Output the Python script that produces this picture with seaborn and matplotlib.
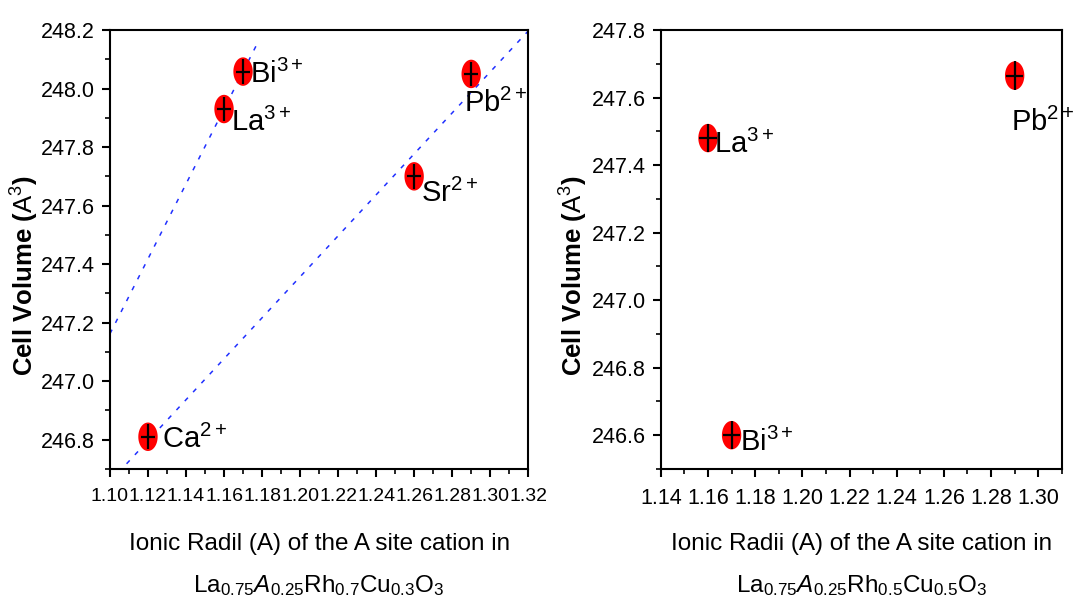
import numpy as np
import pandas as pd
import seaborn as sns
import matplotlib.pyplot as plt
from matplotlib.ticker import MultipleLocator, FormatStrFormatter

# data
ions_a = ["Ca", "La", "Bi", "Sr", "Pb"]
charge_a = ["2+", "3+", "3+", "2+", "2+"]
radius_a = [1.12, 1.16, 1.17, 1.26, 1.29]
volume_a = [246.81, 247.93, 248.058, 247.70, 248.05]

ions_b = ["La", "Bi", "Pb"]
charge_b = ["3+", "3+", "2+"]
radius_b = [1.16, 1.17, 1.29]
volume_b = [247.48, 246.60, 247.665]

xerr = 0.0037
yerr = 0.042

# groups of points the dashed fit lines go through
fit_groups = [["La", "Bi"], ["Ca", "Sr", "Pb"]]

sns.set_theme(style="ticks")
plt.rcParams['font.family'] = ['Liberation Sans', 'DejaVu Sans']
plt.rcParams['mathtext.fontset'] = 'custom'
plt.rcParams['mathtext.rm'] = 'Liberation Sans'
plt.rcParams['mathtext.it'] = 'Liberation Sans:italic'
plt.rcParams['mathtext.bf'] = 'Liberation Sans:bold'
plt.rcParams['text.color'] = 'black'
plt.rcParams['axes.labelcolor'] = 'black'
plt.rcParams['xtick.color'] = 'black'
plt.rcParams['ytick.color'] = 'black'

df_a = pd.DataFrame({"ion": ions_a, "charge": charge_a, "r": radius_a, "v": volume_a})
df_b = pd.DataFrame({"ion": ions_b, "charge": charge_b, "r": radius_b, "v": volume_b})

# tall ellipse marker
t = np.linspace(0, 2 * np.pi, 60)
ellipse = list(zip(0.68 * np.cos(t), np.sin(t)))

fig = plt.figure(figsize=(10.78, 6.13), dpi=100)
ax1 = fig.add_axes([0.102, 0.235, 0.388, 0.716])
ax2 = fig.add_axes([0.613, 0.235, 0.372, 0.716])


def draw_points(ax, df):
    sns.scatterplot(data=df, x="r", y="v", ax=ax, marker=ellipse, s=420,
                    color="#ff0000", edgecolor="none", zorder=3, legend=False)
    ax.errorbar(df["r"], df["v"], xerr=xerr, yerr=yerr, fmt="none",
                ecolor="black", elinewidth=1.6, capsize=0, zorder=4)


def style_axes(ax, xlim, ylim, xlabel, ylab_x, xtick_size):
    ax.set_xlim(*xlim)
    ax.set_ylim(*ylim)
    ax.xaxis.set_major_locator(MultipleLocator(0.02))
    ax.xaxis.set_minor_locator(MultipleLocator(0.01))
    ax.yaxis.set_major_locator(MultipleLocator(0.2))
    ax.yaxis.set_minor_locator(MultipleLocator(0.1))
    ax.xaxis.set_major_formatter(FormatStrFormatter("%.2f"))
    ax.yaxis.set_major_formatter(FormatStrFormatter("%.1f"))
    ax.tick_params(which="major", length=6, width=1.5)
    ax.tick_params(which="minor", length=3.5, width=1.2)
    ax.tick_params(axis="x", labelsize=xtick_size, pad=8)
    ax.tick_params(axis="y", labelsize=15.5, pad=5)
    for sp in ax.spines.values():
        sp.set_visible(True)
        sp.set_linewidth(1.5)
        sp.set_color("black")
    ax.set_ylabel(r"Cell Volume ($\mathrm{A}^3$)", fontsize=18.5, fontweight="bold")
    ax.yaxis.set_label_coords(ylab_x, 0.44)
    ax.set_xlabel(xlabel, fontsize=17.5, linespacing=2.0)
    ax.xaxis.set_label_coords(0.5, -0.145)
    ax.set_facecolor("white")


# left panel
draw_points(ax1, df_a)
for k, grp in enumerate(fit_groups):
    sub = df_a[df_a["ion"].isin(grp)]
    m, c = np.polyfit(sub["r"], sub["v"], 1)
    xx = np.array([1.10, 1.177]) if k == 0 else np.array([1.10, 1.32])
    ax1.plot(xx, m * xx + c, color="#2030ff", lw=1.1, ls=(0, (3, 5)), zorder=2)

off_a = {"Ca": (0.0075, -0.01), "La": (0.0035, -0.045), "Bi": (0.0035, -0.01),
         "Sr": (0.0035, -0.06), "Pb": (-0.004, -0.10)}
for _, row in df_a.iterrows():
    dx, dy = off_a[row["ion"]]
    ax1.text(row["r"] + dx, row["v"] + dy, row["ion"] + "$^{" + row["charge"] + "}$",
             fontsize=21, va="center", ha="left", zorder=5)

style_axes(ax1, (1.10, 1.32), (246.7, 248.2),
           "Ionic Radil (A) of the A site cation in\n"
           r"La$_{0.75}\mathit{A}_{0.25}$Rh$_{0.7}$Cu$_{0.3}$O$_3$", -0.165, 14)

# right panel
draw_points(ax2, df_b)
off_b = {"La": (0.0025, -0.02), "Bi": (0.0035, -0.02), "Pb": (-0.0015, -0.14)}
for _, row in df_b.iterrows():
    dx, dy = off_b[row["ion"]]
    ax2.text(row["r"] + dx, row["v"] + dy, row["ion"] + "$^{" + row["charge"] + "}$",
             fontsize=21, va="center", ha="left", zorder=5)

style_axes(ax2, (1.14, 1.31), (246.5, 247.8),
           "Ionic Radii (A) of the A site cation in\n"
           r"La$_{0.75}\mathit{A}_{0.25}$Rh$_{0.5}$Cu$_{0.5}$O$_3$", -0.177, 15.5)

fig.savefig("out.png", dpi=100, facecolor="white")
